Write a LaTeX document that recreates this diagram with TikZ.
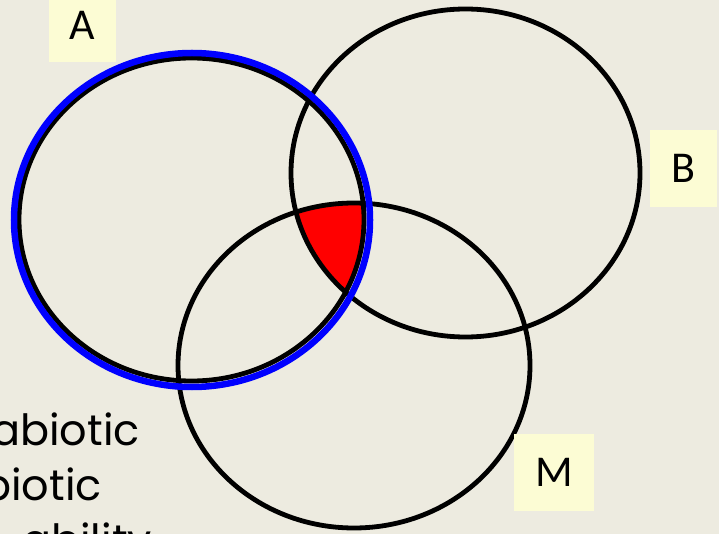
\documentclass[tikz,border=0pt]{standalone}
\usepackage{fontspec}
\setmainfont{Poppins}
\newfontfamily\tagfont{Carlito}
\definecolor{bgcol}{RGB}{237,235,224}
\definecolor{tagcol}{RGB}{252,252,212}
\definecolor{ringblue}{RGB}{0,0,255}
\definecolor{hitred}{RGB}{255,0,0}

\begin{document}
\begin{tikzpicture}[
    x=1pt, y=-1pt,
    ring/.style={draw=black, line width=4.8pt},
    tag/.style={fill=tagcol, font=\tagfont\fontsize{44}{44}\selectfont, inner sep=0pt},
    words/.style={font=\fontsize{43}{43}\selectfont, anchor=base west, inner sep=0pt},
]
\fill[bgcol] (0,0) rectangle (719,534);
\useasboundingbox (0,0) rectangle (719,534);

% shared region of the three sets
\begin{scope}
  \clip (191.5,219.5) ellipse [x radius=172.5, y radius=161.5];
  \clip (465.5,173) ellipse [x radius=174.5, y radius=164];
  \fill[hitred] (354,365.5) ellipse [x radius=176, y radius=162.5];
\end{scope}

\draw[ring] (191.5,219.5) ellipse [x radius=172.5, y radius=161.5];
\draw[ring] (465.5,173) ellipse [x radius=174.5, y radius=164];
\draw[ring] (354,365.5) ellipse [x radius=176, y radius=162.5];
\draw[draw=ringblue, line width=6.5pt] (192,220) ellipse [x radius=178, y radius=167];

\node[tag, minimum width=67pt, minimum height=74pt] (tagA) at (82.5,25) {A};
\node[tag, minimum width=67pt, minimum height=77pt] (tagB) at (683.5,168.5) {B};
\node[tag, minimum width=80pt, minimum height=77pt] (tagM) at (554,472.5) {M};

\node[words] (abio) at (-9,445) {abiotic};
\node[words] (bio) at (-18,500) {biotic};
\node[words] (abil) at (22,555) {ability};
\end{tikzpicture}
\end{document}
